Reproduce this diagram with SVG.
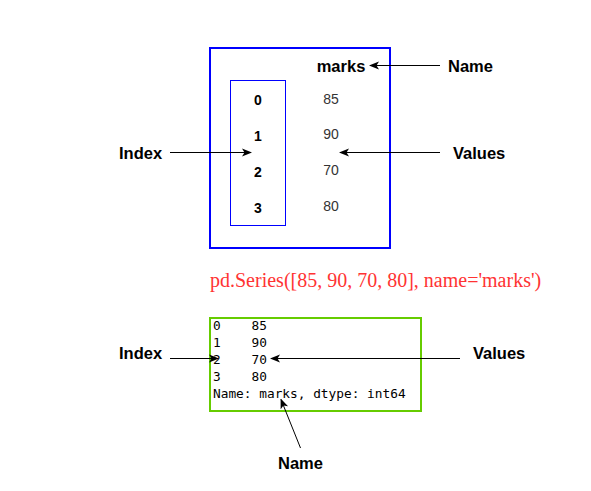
<svg xmlns="http://www.w3.org/2000/svg" width="591" height="491" viewBox="0 0 591 491">
<style>
.lbl{font-family:"Liberation Sans",Arial,sans-serif;font-weight:bold;font-size:16.5px;fill:#000}
.idx{font-family:"Liberation Sans",Arial,sans-serif;font-weight:bold;font-size:14px;fill:#000}
.val{font-family:"Liberation Sans",Arial,sans-serif;font-size:14px;fill:#333}
.mono{font-family:"DejaVu Sans Mono","Liberation Mono",monospace;font-size:12.8px;fill:#000}
.conn{stroke:#000;stroke-width:1;fill:none;marker-end:url(#arr)}
</style>
<defs>
<marker id="arr" viewBox="0 0 10 10" refX="9" refY="5" markerWidth="10" markerHeight="10" markerUnits="userSpaceOnUse" orient="auto">
<path d="M0,1 L10,5 L0,9 L2.5,5 Z" fill="#000"/>
</marker>
</defs>
<rect width="591" height="491" fill="#fff"/>
<g id="series-box">
<rect x="210" y="48" width="180" height="200" fill="none" stroke="#0000ff" stroke-width="2"/>
<text class="lbl" x="341" y="72" text-anchor="middle">marks</text>
</g>
<g id="index-box">
<rect x="230.5" y="80.5" width="55" height="145" fill="none" stroke="#0000ff" stroke-width="1"/>
<text class="idx" x="258" y="105" text-anchor="middle">0</text>
<text class="idx" x="258" y="141" text-anchor="middle">1</text>
<text class="idx" x="258" y="177" text-anchor="middle">2</text>
<text class="idx" x="258" y="213" text-anchor="middle">3</text>
</g>
<g id="values">
<text class="val" x="331" y="104" text-anchor="middle">85</text>
<text class="val" x="331" y="139" text-anchor="middle">90</text>
<text class="val" x="331" y="175" text-anchor="middle">70</text>
<text class="val" x="331" y="211" text-anchor="middle">80</text>
</g>
<g id="label-name-top"><text class="lbl" x="448" y="72">Name</text></g>
<g id="label-index-top"><text class="lbl" x="119" y="159">Index</text></g>
<g id="label-values-top"><text class="lbl" x="453" y="159">Values</text></g>
<g id="code"><text x="210" y="287" font-family="'Liberation Serif','Times New Roman',serif" font-size="20" fill="#ff3333">pd.Series([85, 90, 70, 80], name='marks')</text></g>
<g id="output-box">
<rect x="210" y="318" width="211" height="93" fill="none" stroke="#66cc00" stroke-width="2"/>
<text class="mono" x="213" y="330" xml:space="preserve">0    85</text>
<text class="mono" x="213" y="347" xml:space="preserve">1    90</text>
<text class="mono" x="213" y="364" xml:space="preserve">2    70</text>
<text class="mono" x="213" y="381" xml:space="preserve">3    80</text>
<text class="mono" x="213" y="398" xml:space="preserve">Name: marks, dtype: int64</text>
</g>
<g id="label-index-bottom"><text class="lbl" x="119" y="359">Index</text></g>
<g id="label-values-bottom"><text class="lbl" x="473" y="359">Values</text></g>
<g id="label-name-bottom"><text class="lbl" x="278" y="469">Name</text></g>
<g id="connectors">
<line class="conn" x1="440" y1="65.5" x2="370" y2="65.5"/>
<line class="conn" x1="170" y1="152.5" x2="251" y2="152.5"/>
<line class="conn" x1="440" y1="152.5" x2="340" y2="152.5"/>
<line class="conn" x1="170" y1="358.5" x2="218" y2="358.5"/>
<line class="conn" x1="460" y1="358.5" x2="271" y2="358.5"/>
<line class="conn" x1="300.5" y1="448" x2="281" y2="399.5"/>
</g>
</svg>
